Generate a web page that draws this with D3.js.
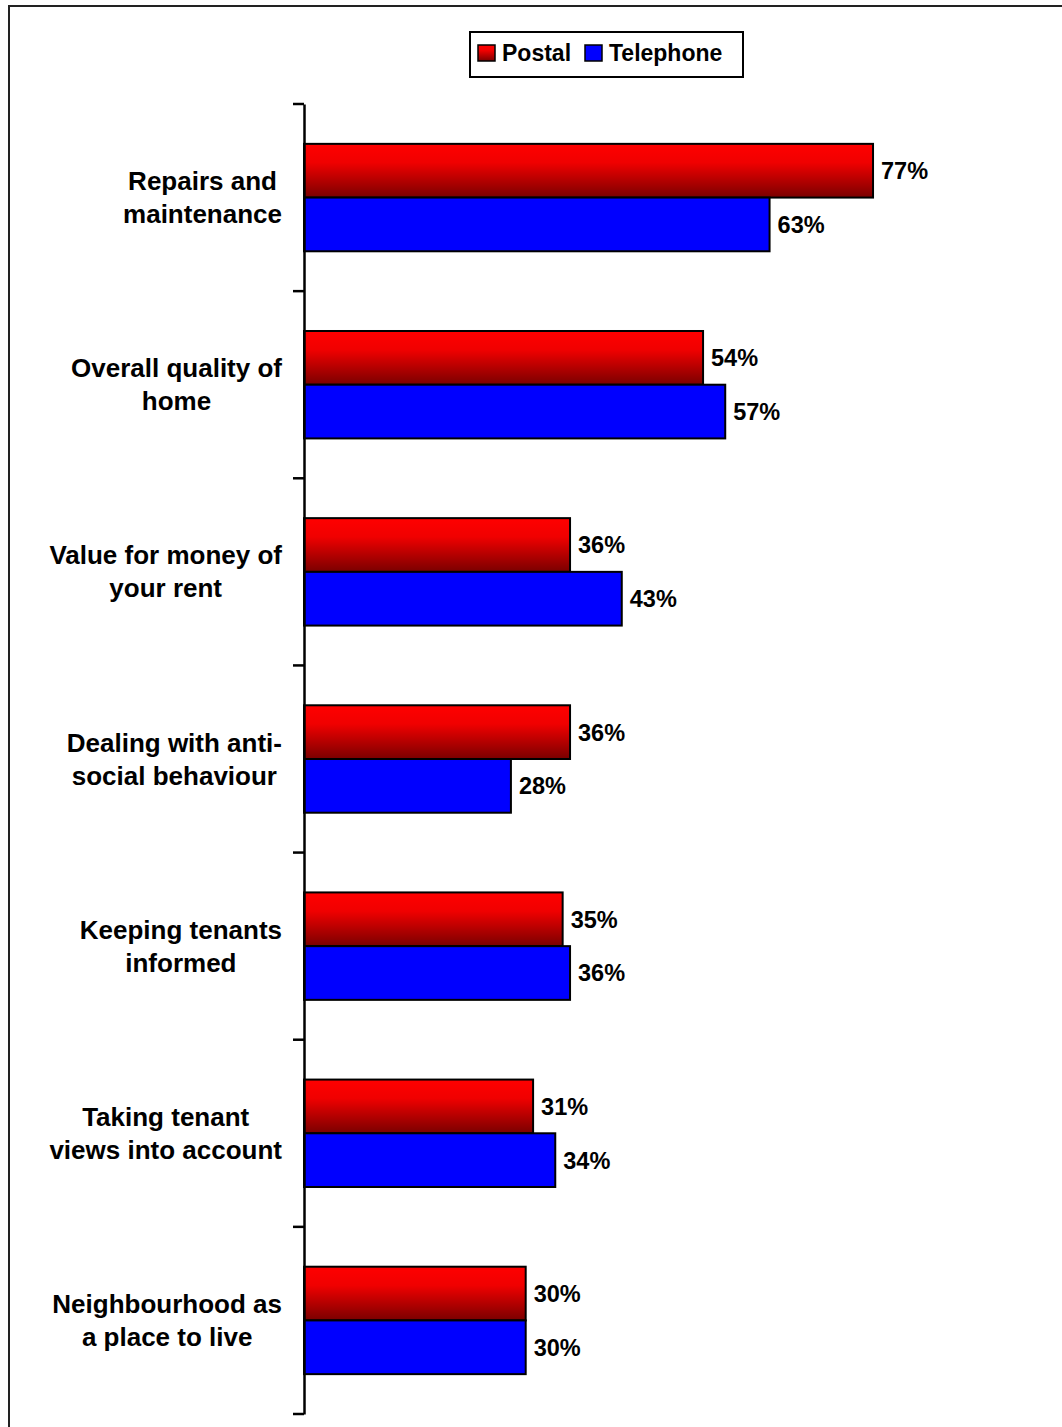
<!DOCTYPE html>
<html>
<head>
<meta charset="utf-8">
<script src="https://cdn.jsdelivr.net/npm/d3@7"></script>
<style>
  html, body { margin: 0; padding: 0; background: #fff; }
  svg { display: block; }
  text { font-family: "Liberation Sans", Arial, sans-serif; font-weight: bold; fill: #000; }
</style>
</head>
<body>
<script>
// Satisfaction by survey method
const categories = [
  ["Repairs and", "maintenance"],
  ["Overall quality of", "home"],
  ["Value for money of", "your rent"],
  ["Dealing with anti-", "social behaviour"],
  ["Keeping tenants", "informed"],
  ["Taking tenant", "views into account"],
  ["Neighbourhood as", "a place to live"]
];
const series = ["Postal", "Telephone"];
const postal = [77, 54, 36, 36, 35, 31, 30];
const telephone = [63, 57, 43, 28, 36, 34, 30];

const W = 1062, H = 1427;
const svg = d3.select("body").append("svg").attr("width", W).attr("height", H);

const defs = svg.append("defs");
const grad = defs.append("linearGradient").attr("id", "redGrad")
  .attr("x1", 0).attr("y1", 0).attr("x2", 0).attr("y2", 1);
grad.append("stop").attr("offset", "0%").attr("stop-color", "#ff0000");
grad.append("stop").attr("offset", "35%").attr("stop-color", "#f00000");
grad.append("stop").attr("offset", "100%").attr("stop-color", "#7a0000");
const fills = { Postal: "url(#redGrad)", Telephone: "#0000ff" };

// outer frame
svg.append("rect").attr("x", 9).attr("y", 6).attr("width", W + 20).attr("height", H + 20)
  .attr("fill", "none").attr("stroke", "#222").attr("stroke-width", 2);

const keys = categories.map(c => c.join(" "));
const y0 = d3.scaleBand().domain(keys).range([104, 1414]).paddingInner(0).paddingOuter(0);
const y1 = d3.scaleBand().domain(series).range([0, y0.bandwidth()]).paddingInner(0).paddingOuter(0.742);
const x = d3.scaleLinear().domain([0, 100]).range([304, 1043]);

const rows = keys.map((k, i) => ({ key: k, lines: categories[i], Postal: postal[i], Telephone: telephone[i] }));

// bars with value labels
const g = svg.append("g");
rows.forEach(r => {
  series.forEach(s => {
    g.append("rect")
      .attr("x", x(0))
      .attr("y", y0(r.key) + y1(s))
      .attr("width", x(r[s]) - x(0))
      .attr("height", y1.bandwidth())
      .attr("fill", fills[s])
      .attr("stroke", "#000").attr("stroke-width", 2);
    g.append("text")
      .attr("x", x(r[s]) + 8)
      .attr("y", y0(r.key) + y1(s) + y1.bandwidth() / 2)
      .attr("dy", "0.36em")
      .attr("font-size", 23.5)
      .text(r[s] + "%");
  });
});

// category axis
const axis = d3.axisLeft(y0).tickValues([]).tickSize(0);
const axG = svg.append("g").attr("transform", `translate(${x(0)},0)`).call(axis);
axG.select(".domain").attr("stroke", "#000").attr("stroke-width", 2.5);
const bounds = y0.range();
const tickYs = keys.map(k => y0(k)).concat([bounds[1]]);
axG.selectAll(".tk").data(tickYs).enter().append("line")
  .attr("x1", -11).attr("x2", 0).attr("y1", d => d).attr("y2", d => d)
  .attr("stroke", "#000").attr("stroke-width", 2.5);

// category labels: wrapped lines centred in a right-aligned box
const labelRight = 282;
rows.forEach(r => {
  const cy = y0(r.key) + y0.bandwidth() / 2;
  const lg = svg.append("g");
  const ts = r.lines.map((ln, j) => lg.append("text")
    .attr("font-size", 26)
    .attr("text-anchor", "middle")
    .attr("y", cy - 7.5 + j * 33)
    .text(ln));
  const maxW = d3.max(ts, t => t.node().getComputedTextLength());
  ts.forEach(t => t.attr("x", labelRight - maxW / 2));
});

// legend
const leg = svg.append("g");
leg.append("rect").attr("x", 470).attr("y", 32).attr("width", 273).attr("height", 45)
  .attr("fill", "#fff").attr("stroke", "#000").attr("stroke-width", 2);
const legX = [478, 585];
series.forEach((s, i) => {
  leg.append("rect").attr("x", legX[i]).attr("y", 45).attr("width", 17).attr("height", 16)
    .attr("fill", fills[s]).attr("stroke", "#000").attr("stroke-width", 1.5);
  leg.append("text").attr("x", legX[i] + 24).attr("y", 61).attr("font-size", 23).text(s);
});
</script>
</body>
</html>
